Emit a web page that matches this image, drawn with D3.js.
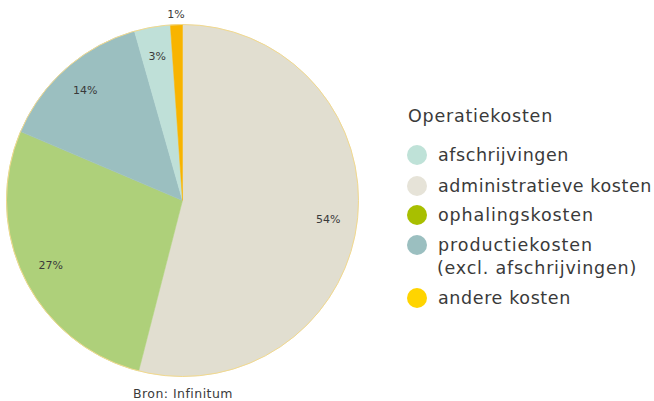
<!DOCTYPE html>
<html><head><meta charset="utf-8">
<script src="https://cdn.jsdelivr.net/npm/d3@7"></script>
<style>body{margin:0;background:#fff}svg{display:block}text{font-family:"DejaVu Sans",sans-serif}</style>
</head><body><svg id="c" width="654" height="401"></svg>
<script>
const sliceCategories = ["administratieve kosten","ophalingskosten","productiekosten","afschrijvingen","andere kosten"];
const sliceValues = [54.0, 27.4, 14.2, 3.3, 1.1];
const sliceColors = ["#e1ded0","#aed07a","#9bbfc0","#bfe0d8","#f8b400"];
const legendLabels = [["afschrijvingen"],["administratieve kosten"],["ophalingskosten"],["productiekosten","(excl. afschrijvingen)"],["andere kosten"]];
const legendColors = ["#bfe2d8","#e6e3d8","#a8bf00","#9bbfc0","#ffd400"];
const legendTitle = "Operatiekosten";
const sourceText = "Bron: Infinitum";

const svg = d3.select("#c");
const cx = 182.5, cy = 200.5, R = 176;
const g = svg.append("g").attr("transform",`translate(${cx},${cy})`);
const pie = d3.pie().sort(null).value(d=>d)(sliceValues);
const arc = d3.arc().innerRadius(0).outerRadius(R);
g.selectAll("path.s").data(pie).join("path").attr("class","s")
  .attr("d",arc).attr("fill",(d,i)=>sliceColors[i])
  .attr("stroke",(d,i)=>sliceColors[i]).attr("stroke-width",0.5);
g.append("circle").attr("r",R).attr("fill","none").attr("stroke","#f2d98e").attr("stroke-width",1);
const labelArc = d3.arc().innerRadius(147).outerRadius(147);
const outArc = d3.arc().innerRadius(186).outerRadius(186);
g.selectAll("text.l").data(pie).join("text").attr("class","l")
  .attr("transform",(d,i)=>`translate(${(d.value<2?outArc:labelArc).centroid(d)})`)
  .attr("text-anchor","middle").attr("dy","0.35em")
  .attr("font-size",11).attr("fill","#3a3a3a")
  .text(d=>Math.round(d.value)+"%");

function fit(sel, w){
  const n = sel.text().length;
  const cur = sel.node().getComputedTextLength();
  sel.attr("letter-spacing", ((w-cur)/n).toFixed(2));
}
const lg = svg.append("g");
const title = lg.append("text").attr("x",408).attr("y",122).attr("font-size",17.5).attr("fill","#3a3a3a").text(legendTitle);
fit(title,145);
const ys = [155,186,215,245,298];
const widths = [[131],[214],[156],[155,200],[133]];
legendLabels.forEach((lines,i)=>{
  lg.append("circle").attr("cx",417).attr("cy",ys[i]).attr("r",10).attr("fill",legendColors[i]);
  lines.forEach((t,j)=>{
    const tx = lg.append("text").attr("x",j?437:438).attr("y",ys[i]+6+j*23).attr("font-size",17.5).attr("fill","#3a3a3a").text(t);
    fit(tx, widths[i][j]);
  });
});
const src = svg.append("text").attr("x",133).attr("y",398).attr("font-size",12.5).attr("fill","#3a3a3a").text(sourceText);
fit(src,100);
</script></body></html>
